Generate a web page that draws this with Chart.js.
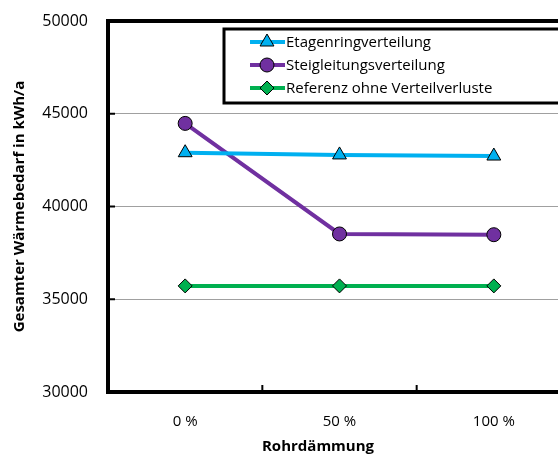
<!DOCTYPE html>
<html>
<head>
<meta charset="utf-8">
<script src="https://cdn.jsdelivr.net/npm/chart.js@4.4.0/dist/chart.umd.min.js"></script>
<style>
  html, body { margin: 0; padding: 0; background: #fff; overflow: hidden; }
  #wrap { width: 580px; height: 457px; }
</style>
</head>
<body>
<div id="wrap"><canvas id="heatChart" width="580" height="457"></canvas></div>
<script>
// data
const categories = ['0 %', '50 %', '100 %'];
const etagenring = [42900, 42780, 42720];
const steigleitung = [44480, 38520, 38480];
const referenz = [35720, 35720, 35720];
const yMin = 30000;
const yMax = 50000;
const yStep = 5000;

const FONT = "'Open Sans', 'Noto Sans', sans-serif";

// frame, inner tick marks, axis titles and the boxed legend (Excel look)
const excelDecor = {
  id: 'excelDecor',
  afterDatasetsDraw(chart) {
    const ctx = chart.ctx;
    const area = chart.chartArea;
    const x = chart.scales.x;
    const y = chart.scales.y;
    ctx.save();

    // short inside ticks
    ctx.strokeStyle = '#000';
    ctx.lineWidth = 2;
    y.ticks.forEach((t, i) => {
      if (t.value === yMin || t.value === yMax) return;
      const py = y.getPixelForTick(i);
      ctx.beginPath();
      ctx.moveTo(area.left, py);
      ctx.lineTo(area.left + 7, py);
      ctx.stroke();
    });
    for (let i = 0; i < categories.length - 1; i++) {
      const px = (x.getPixelForValue(i) + x.getPixelForValue(i + 1)) / 2;
      ctx.beginPath();
      ctx.moveTo(px, area.bottom);
      ctx.lineTo(px, area.bottom - 7);
      ctx.stroke();
    }

    // plot frame
    ctx.lineWidth = 4;
    ctx.strokeRect(area.left, area.top, area.right - area.left, area.bottom - area.top);

    // legend box
    const lx = 224, ly = 29, lw = 360, lh = 74;
    ctx.fillStyle = '#fff';
    ctx.fillRect(lx, ly, lw, lh);
    ctx.lineWidth = 3;
    ctx.strokeRect(lx, ly, lw, lh);
    ctx.font = '15px ' + FONT;
    ctx.textBaseline = 'middle';
    ctx.textAlign = 'left';
    chart.data.datasets.forEach((ds, i) => {
      const ry = 42 + i * 23;
      ctx.strokeStyle = ds.borderColor;
      ctx.lineWidth = 4;
      ctx.beginPath();
      ctx.moveTo(250, ry);
      ctx.lineTo(285, ry);
      ctx.stroke();
      ctx.fillStyle = ds.pointBackgroundColor;
      ctx.strokeStyle = '#000';
      ctx.lineWidth = 1;
      Chart.helpers.drawPoint(ctx, {
        pointStyle: ds.pointStyle, radius: ds.pointRadius, rotation: 0, borderWidth: 1
      }, 267, ry);
      ctx.fillStyle = '#000';
      ctx.fillText(ds.label, 286, ry + 1);
    });

    // axis titles
    ctx.fillStyle = '#000';
    ctx.font = 'bold 15px ' + FONT;
    ctx.textAlign = 'center';
    ctx.fillText('Rohrdämmung', 318, 447);
    ctx.translate(20, (area.top + area.bottom) / 2);
    ctx.rotate(-Math.PI / 2);
    ctx.fillText('Gesamter Wärmebedarf in kWh/a', 0, 0);
    ctx.restore();
  }
};

const ctx = document.getElementById('heatChart').getContext('2d');
const heatChart = new Chart(ctx, {
  type: 'line',
  data: {
    labels: categories,
    datasets: [
      {
        label: 'Etagenringverteilung',
        data: etagenring,
        borderColor: '#00B0F0',
        borderWidth: 4,
        pointStyle: 'triangle',
        pointRadius: 8,
        pointBackgroundColor: '#00B0F0',
        pointBorderColor: '#000',
        pointBorderWidth: 1,
        fill: false
      },
      {
        label: 'Steigleitungsverteilung',
        data: steigleitung,
        borderColor: '#7030A0',
        borderWidth: 4,
        pointStyle: 'circle',
        pointRadius: 7,
        pointBackgroundColor: '#7030A0',
        pointBorderColor: '#000',
        pointBorderWidth: 1,
        fill: false
      },
      {
        label: 'Referenz ohne Verteilverluste',
        data: referenz,
        borderColor: '#00B050',
        borderWidth: 4,
        pointStyle: 'rectRot',
        pointRadius: 7,
        pointBackgroundColor: '#00B050',
        pointBorderColor: '#000',
        pointBorderWidth: 1,
        fill: false
      }
    ]
  },
  options: {
    responsive: false,
    animation: false,
    layout: { padding: { top: 21, right: 9, bottom: 0, left: 0 } },
    plugins: {
      legend: { display: false },
      tooltip: { enabled: false }
    },
    scales: {
      x: {
        offset: true,
        grid: { display: false, drawTicks: false },
        border: { display: false },
        ticks: { color: '#000', font: { family: FONT, size: 15 }, padding: 21 },
        afterFit(scale) { scale.height = 65; }
      },
      y: {
        min: yMin,
        max: yMax,
        grid: { color: '#a0a0a0', lineWidth: 1, drawTicks: false },
        border: { display: false },
        ticks: {
          stepSize: yStep,
          color: '#000',
          font: { family: FONT, size: 16 },
          padding: 20,
          callback: (v) => String(v)
        },
        afterFit(scale) {
          scale.width = 108;
          scale.paddingTop = 0;
          scale.paddingBottom = 0;
        }
      }
    }
  },
  plugins: [excelDecor]
});
</script>
</body>
</html>
